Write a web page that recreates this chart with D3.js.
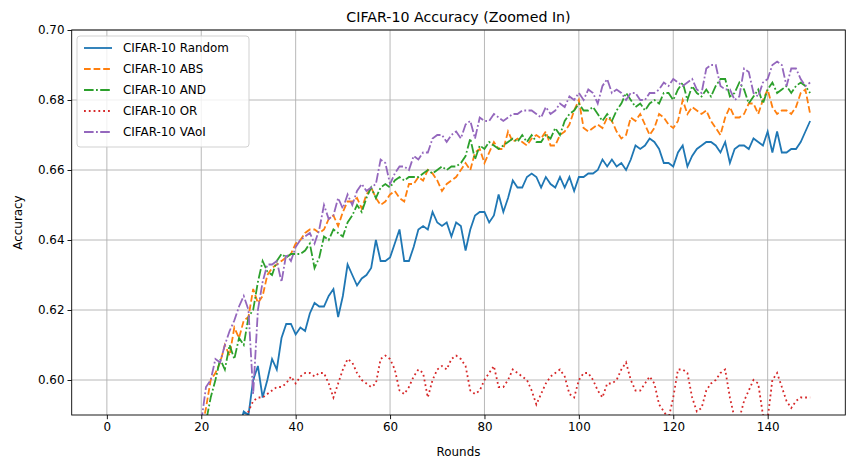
<!DOCTYPE html>
<html><head><meta charset="utf-8">
<script src="https://cdn.jsdelivr.net/npm/d3@7"></script>
<style>body{margin:0;background:#fff}</style>
</head><body><div id="chart"></div>
<script>
const startRound = 20;
const seriesNames = ["CIFAR-10 Random", "CIFAR-10 ABS", "CIFAR-10 AND", "CIFAR-10 OR", "CIFAR-10 VAoI"];
const xTicks = [0, 20, 40, 60, 80, 100, 120, 140];
const yTicks = [0.60, 0.62, 0.64, 0.66, 0.68, 0.70];

// rounds 20..149
const randomAcc = [0.550,0.555,0.560,0.565,0.570,0.575,0.580,0.584,0.586,0.591,0.590,0.600,0.604,0.595,0.600,0.606,0.603,0.612,0.616,0.616,
0.613,0.615,0.614,0.619,0.622,0.621,0.621,0.624,0.626,0.618,0.624,0.633,0.630,0.627,0.629,0.630,0.632,0.640,0.634,0.634,
0.635,0.639,0.643,0.634,0.634,0.638,0.643,0.644,0.643,0.648,0.645,0.644,0.645,0.641,0.645,0.644,0.637,0.643,0.647,0.648,
0.648,0.645,0.647,0.653,0.648,0.652,0.657,0.655,0.655,0.658,0.659,0.658,0.655,0.658,0.656,0.655,0.658,0.655,0.658,0.654,
0.658,0.658,0.659,0.659,0.660,0.663,0.661,0.663,0.661,0.662,0.660,0.663,0.667,0.666,0.667,0.669,0.668,0.666,0.662,0.662,
0.661,0.665,0.667,0.661,0.664,0.666,0.667,0.668,0.668,0.667,0.665,0.668,0.662,0.666,0.667,0.667,0.666,0.669,0.668,0.667,
0.671,0.665,0.671,0.665,0.665,0.666,0.666,0.668,0.671,0.674];
const absAcc = [0.585,0.592,0.600,0.602,0.605,0.610,0.607,0.615,0.612,0.617,0.618,0.626,0.622,0.624,0.630,0.632,0.633,0.634,0.635,0.636,
0.639,0.640,0.642,0.643,0.643,0.642,0.643,0.646,0.647,0.644,0.648,0.651,0.651,0.652,0.649,0.653,0.655,0.652,0.650,0.651,
0.653,0.654,0.652,0.651,0.656,0.656,0.658,0.657,0.660,0.659,0.657,0.654,0.656,0.657,0.658,0.660,0.662,0.660,0.665,0.666,
0.662,0.665,0.668,0.666,0.666,0.671,0.668,0.669,0.668,0.667,0.669,0.670,0.669,0.671,0.667,0.667,0.670,0.671,0.673,0.677,
0.680,0.672,0.671,0.672,0.673,0.672,0.675,0.674,0.671,0.669,0.670,0.675,0.674,0.676,0.673,0.670,0.672,0.676,0.675,0.673,
0.672,0.674,0.680,0.676,0.678,0.677,0.676,0.677,0.674,0.672,0.670,0.675,0.678,0.675,0.675,0.676,0.679,0.679,0.676,0.680,
0.683,0.678,0.676,0.677,0.677,0.676,0.678,0.682,0.683,0.676];
const andAcc = [0.580,0.588,0.595,0.600,0.606,0.603,0.610,0.606,0.612,0.610,0.618,0.620,0.628,0.634,0.631,0.630,0.634,0.636,0.635,0.636,
0.636,0.636,0.637,0.639,0.632,0.635,0.641,0.640,0.643,0.642,0.641,0.645,0.647,0.650,0.648,0.652,0.655,0.652,0.655,0.656,
0.655,0.657,0.658,0.657,0.658,0.658,0.658,0.659,0.660,0.659,0.660,0.661,0.660,0.661,0.661,0.662,0.664,0.669,0.663,0.667,
0.666,0.668,0.667,0.666,0.667,0.668,0.669,0.668,0.670,0.668,0.670,0.668,0.668,0.670,0.669,0.672,0.670,0.674,0.676,0.677,
0.679,0.677,0.677,0.678,0.676,0.674,0.676,0.674,0.677,0.679,0.682,0.680,0.678,0.679,0.677,0.679,0.680,0.679,0.682,0.682,
0.680,0.683,0.685,0.680,0.684,0.682,0.681,0.683,0.681,0.684,0.686,0.686,0.681,0.682,0.685,0.683,0.679,0.681,0.683,0.679,
0.683,0.685,0.682,0.683,0.684,0.682,0.684,0.685,0.684,0.682];
const orAcc = [0.570,0.572,0.574,0.576,0.578,0.580,0.582,0.584,0.586,0.589,0.591,0.594,0.595,0.595,0.596,0.597,0.598,0.598,0.599,0.601,
0.599,0.601,0.602,0.602,0.601,0.602,0.602,0.599,0.595,0.599,0.603,0.606,0.605,0.602,0.600,0.599,0.598,0.599,0.606,0.607,
0.606,0.603,0.597,0.596,0.598,0.601,0.603,0.602,0.595,0.600,0.603,0.604,0.603,0.606,0.607,0.606,0.604,0.597,0.596,0.597,
0.600,0.602,0.604,0.598,0.598,0.600,0.603,0.602,0.601,0.600,0.597,0.593,0.596,0.599,0.601,0.602,0.603,0.601,0.596,0.595,
0.600,0.602,0.602,0.600,0.597,0.595,0.599,0.599,0.600,0.603,0.605,0.600,0.597,0.597,0.599,0.601,0.599,0.593,0.591,0.589,
0.595,0.603,0.603,0.602,0.595,0.591,0.592,0.597,0.599,0.600,0.602,0.603,0.595,0.589,0.589,0.594,0.597,0.600,0.599,0.590,
0.589,0.600,0.602,0.598,0.594,0.592,0.594,0.595,0.595,0.595];
const vaoiAcc = [0.588,0.598,0.600,0.606,0.605,0.610,0.614,0.617,0.621,0.624,0.620,0.596,0.620,0.628,0.633,0.633,0.634,0.628,0.636,0.634,
0.638,0.640,0.641,0.642,0.639,0.643,0.650,0.646,0.647,0.652,0.649,0.653,0.650,0.654,0.656,0.654,0.655,0.656,0.663,0.662,
0.656,0.659,0.661,0.661,0.660,0.664,0.663,0.665,0.665,0.669,0.670,0.670,0.668,0.670,0.671,0.669,0.673,0.674,0.669,0.675,
0.674,0.674,0.676,0.675,0.674,0.675,0.676,0.676,0.677,0.677,0.677,0.676,0.675,0.678,0.676,0.677,0.679,0.678,0.681,0.680,
0.682,0.680,0.683,0.682,0.679,0.684,0.686,0.682,0.683,0.682,0.680,0.682,0.682,0.680,0.680,0.682,0.682,0.683,0.685,0.684,
0.686,0.685,0.684,0.685,0.686,0.683,0.682,0.689,0.690,0.690,0.684,0.683,0.683,0.680,0.681,0.689,0.688,0.682,0.681,0.685,
0.686,0.690,0.691,0.690,0.684,0.689,0.689,0.686,0.684,0.685];

const allSeries = [randomAcc, absAcc, andAcc, orAcc, vaoiAcc];
const colors = ["#1f77b4", "#ff7f0e", "#2ca02c", "#d62728", "#9467bd"];
const dashes = [null, "6.7,2.9", "9.6,2.4,1.8,2.4", "1.8,3", "9.6,2.4,1.8,2.4"];

const width = 855, height = 468;
const mLeft = 71.7, mRight = 845.3, mTop = 30, mBottom = 415;

const svg = d3.select("#chart").append("svg")
    .attr("width", width).attr("height", height)
    .style("font-family", "DejaVu Sans");

const x = d3.scaleLinear().domain([-7.45, 156.45]).range([mLeft, mRight]);
const y = d3.scaleLinear().domain([0.59, 0.70]).range([mBottom, mTop]);

svg.append("defs").append("clipPath").attr("id", "clip")
    .append("rect").attr("x", mLeft).attr("y", mTop)
    .attr("width", mRight - mLeft).attr("height", mBottom - mTop);

// grid
xTicks.forEach(t => {
    svg.append("line").attr("x1", x(t)).attr("x2", x(t)).attr("y1", mTop).attr("y2", mBottom)
        .attr("stroke", "#b0b0b0").attr("stroke-width", 0.9);
});
yTicks.forEach(t => {
    svg.append("line").attr("x1", mLeft).attr("x2", mRight).attr("y1", y(t)).attr("y2", y(t))
        .attr("stroke", "#b0b0b0").attr("stroke-width", 0.9);
});

// lines
const line = d3.line().x((d, i) => x(startRound + i)).y(d => y(d));
const plot = svg.append("g").attr("clip-path", "url(#clip)");
allSeries.forEach((s, i) => {
    plot.append("path").datum(s).attr("d", line)
        .attr("fill", "none").attr("stroke", colors[i]).attr("stroke-width", 1.8)
        .attr("stroke-dasharray", dashes[i]);
});

// axes
const xAxis = svg.append("g").attr("transform", `translate(0,${mBottom})`)
    .call(d3.axisBottom(x).tickValues(xTicks).tickSize(4.2).tickPadding(3));
const yAxis = svg.append("g").attr("transform", `translate(${mLeft},0)`)
    .call(d3.axisLeft(y).tickValues(yTicks).tickFormat(d3.format(".2f")).tickSize(4.2).tickPadding(3));
[xAxis, yAxis].forEach(a => {
    a.select(".domain").remove();
    a.selectAll("text").attr("font-size", 11.9).attr("font-family", "DejaVu Sans").attr("fill", "#000");
    a.selectAll("line").attr("stroke", "#000").attr("stroke-width", 0.9);
});
svg.append("rect").attr("x", mLeft).attr("y", mTop).attr("width", mRight - mLeft).attr("height", mBottom - mTop)
    .attr("fill", "none").attr("stroke", "#000").attr("stroke-width", 0.9);

// labels
svg.append("text").attr("x", (mLeft + mRight) / 2).attr("y", 22).attr("text-anchor", "middle")
    .attr("font-size", 14.2).text("CIFAR-10 Accuracy (Zoomed In)");
svg.append("text").attr("x", (mLeft + mRight) / 2).attr("y", 456).attr("text-anchor", "middle")
    .attr("font-size", 11.9).text("Rounds");
svg.append("text").attr("transform", `translate(22,${(mTop + mBottom) / 2}) rotate(-90)`)
    .attr("text-anchor", "middle").attr("font-size", 11.9).text("Accuracy");

// legend
const lg = svg.append("g").attr("transform", "translate(77,36)");
lg.append("rect").attr("width", 172).attr("height", 111).attr("rx", 3)
    .attr("fill", "rgba(255,255,255,0.8)").attr("stroke", "#cccccc").attr("stroke-width", 0.9);
seriesNames.forEach((n, i) => {
    const yy = 12 + i * 21;
    lg.append("line").attr("x1", 7).attr("x2", 35).attr("y1", yy).attr("y2", yy)
        .attr("stroke", colors[i]).attr("stroke-width", 1.8).attr("stroke-dasharray", dashes[i]);
    lg.append("text").attr("x", 46).attr("y", yy + 4.3).attr("font-size", 11.9).text(n);
});
</script></body></html>
